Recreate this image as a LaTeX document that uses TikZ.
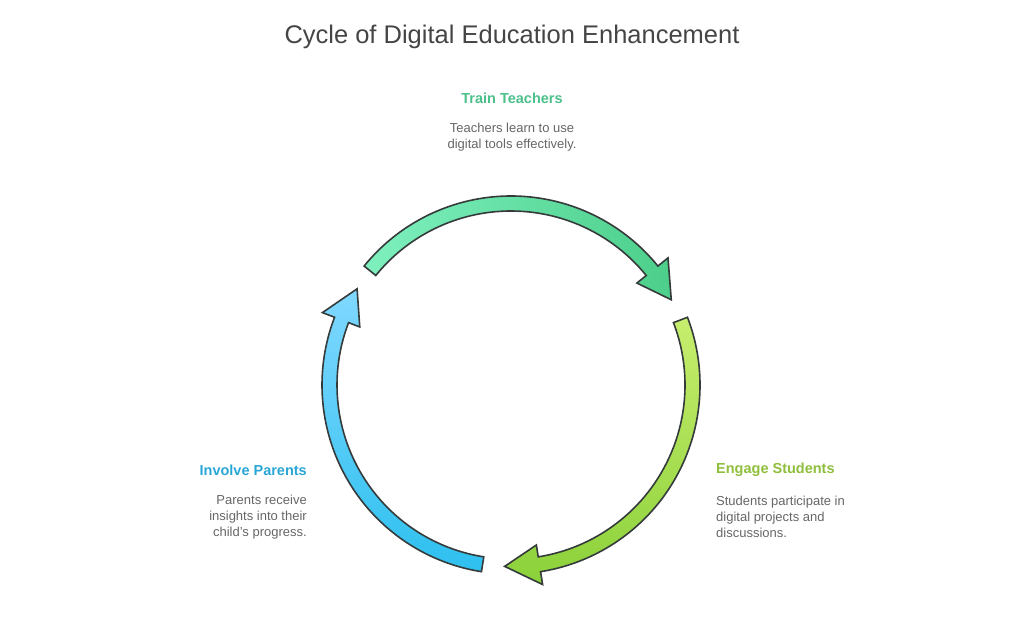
\documentclass[tikz,border=0pt]{standalone}
\usepackage{fontspec}
\setmainfont{Liberation Sans}
\usetikzlibrary{positioning}

\definecolor{outline}{HTML}{353B3B}
\definecolor{titlegray}{HTML}{454545}
\definecolor{bodygray}{HTML}{666666}
\definecolor{teachgreen}{HTML}{4CC08A}
\definecolor{studgreen}{HTML}{8FBE3C}
\definecolor{parentblue}{HTML}{2AA6D6}
\definecolor{teachlight}{HTML}{7EF0BF}
\definecolor{teachdark}{HTML}{4CCF8A}
\definecolor{studlight}{HTML}{C8EE6E}
\definecolor{studdark}{HTML}{8BD13A}
\definecolor{parentlight}{HTML}{80D8FF}
\definecolor{parentdark}{HTML}{2EC0EF}

\tikzset{
  heading/.style={font=\fontsize{14.5}{17}\selectfont\bfseries, inner sep=0pt},
  bodytext/.style={font=\fontsize{13}{16}\selectfont, text=bodygray, inner sep=0pt},
  cyclearrow/.style={draw=outline, line width=1.6pt, line join=miter}
}

% curved arrow of the cycle: #1 = angle of the tail
\newcommand{\cyclearc}[2]{%
  \draw[cyclearrow, #2] (#1:189) arc[start angle=#1, end angle=#1-102, radius=189pt]
    -- (#1-102:202) -- (#1-113:181.5) -- (#1-102:162) -- (#1-102:174)
    arc[start angle=#1-102, end angle=#1, radius=174pt] -- cycle;}

\begin{document}
\begin{tikzpicture}[x=1pt, y=1pt]
  \useasboundingbox (0,0) rectangle (1024,627);

  % title
  \node[font=\fontsize{25.5}{30}\selectfont, text=titlegray] (title) at (512,590)
    {Cycle of Digital Education Enhancement};

  % the three arrows
  \begin{scope}[shift={(511,242)}]
    \cyclearc{141}{left color=teachlight, right color=teachdark}
    \cyclearc{21}{top color=studlight, bottom color=studdark}
    \cyclearc{-99}{top color=parentlight, bottom color=parentdark}
  \end{scope}

  % labels
  \node[heading, text=teachgreen] (train) at (512,529) {Train Teachers};
  \node[bodytext, align=center, below=19pt of train] (traintxt)
    {Teachers learn to use\\digital tools effectively.};

  \node[heading, text=studgreen, anchor=west] (engage) at (716,157) {Engage Students};
  \node[bodytext, align=left, anchor=north west] (engagetxt)
    at ([yshift=-19pt]engage.south west)
    {Students participate in\\digital projects and\\discussions.};

  \node[heading, text=parentblue, anchor=east] (involve) at (307,157) {Involve Parents};
  \node[bodytext, align=right, anchor=north east] (involvetxt)
    at ([yshift=-19pt]involve.south east)
    {Parents receive\\insights into their\\child's progress.};
\end{tikzpicture}
\end{document}
